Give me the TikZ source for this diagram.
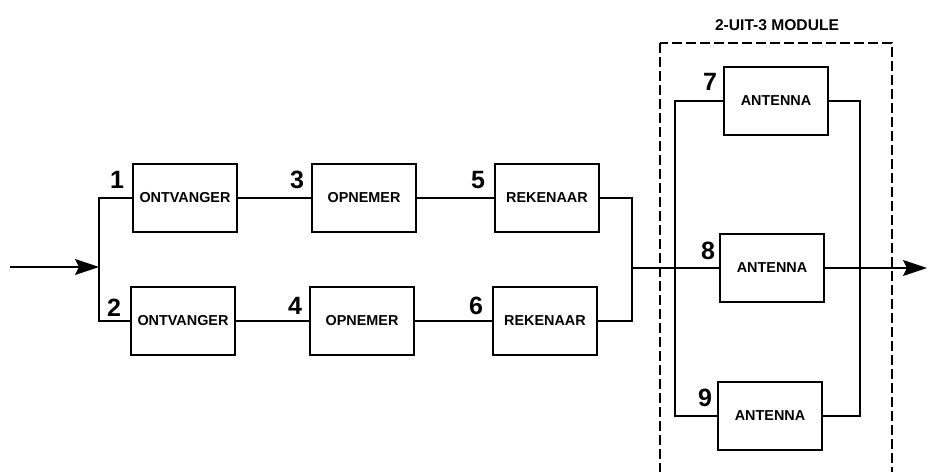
\documentclass[tikz,border=0pt]{standalone}
\usepackage{fontspec}
\setmainfont{Liberation Sans}
\usetikzlibrary{arrows.meta}
\tikzset{
  blok/.style={draw,line width=1pt,minimum width=52pt,minimum height=34pt,inner sep=1pt,font=\fontsize{7.2}{9}\selectfont\bfseries},
  nummer/.style={font=\fontsize{12.5}{14}\selectfont\bfseries,inner sep=0pt},
  lijn/.style={line width=0.8pt},
  pijl/.style={lijn,-{Stealth[length=12pt,width=8pt,inset=2pt]}},
  module/.style={draw,line width=1pt,dash pattern=on 5pt off 2pt}
}

\begin{document}
\begin{tikzpicture}[x=0.5pt,y=-0.5pt]
\useasboundingbox (0,0) rectangle (928,472);
\node[blok] (r1) at (185,198) {ONTVANGER};
\node[blok] (r2) at (183,321) {ONTVANGER};
\node[blok] (o3) at (364,198) {OPNEMER};
\node[blok] (o4) at (362,321) {OPNEMER};
\node[blok] (k5) at (547,198) {REKENAAR};
\node[blok] (k6) at (545,321) {REKENAAR};
\node[blok] (a7) at (776,101) {ANTENNA};
\node[blok] (a8) at (772,268) {ANTENNA};
\node[blok] (a9) at (770,416) {ANTENNA};
\node[nummer] (n1) at (117,180) {1};
\node[nummer] (n2) at (114,308) {2};
\node[nummer] (n3) at (297,180) {3};
\node[nummer] (n4) at (295,306) {4};
\node[nummer] (n5) at (478,180) {5};
\node[nummer] (n6) at (476,306) {6};
\node[nummer] (n7) at (710,82) {7};
\node[nummer] (n8) at (708,251) {8};
\node[nummer] (n9) at (705,398) {9};
\node[font=\fontsize{7.8}{9}\selectfont\bfseries] (titel) at (777,25) {2-UIT-3 MODULE};
\draw[module] (660,43) rectangle (892,473);
\coordinate (in) at (10,267);
\coordinate (jl) at (99,267);
\coordinate (jr) at (632,268);
\coordinate (al) at (675,268);
\coordinate (ar) at (860,268);
\coordinate (uit) at (927,268);
\draw[pijl] (in) -- (jl);
\draw[lijn] (r1.west) -| (jl) |- (r2.west);
\draw[lijn] (r1.east) -- (o3.west);
\draw[lijn] (r2.east) -- (o4.west);
\draw[lijn] (o3.east) -- (k5.west);
\draw[lijn] (o4.east) -- (k6.west);
\draw[lijn] (k5.east) -| (jr) |- (k6.east);
\draw[lijn] (jr) -- (a8.west);
\draw[lijn] (a7.west) -| (al) |- (a9.west);
\draw[lijn] (a7.east) -| (ar) |- (a9.east);
\draw[pijl] (a8.east) -- (uit);
\end{tikzpicture}
\end{document}
